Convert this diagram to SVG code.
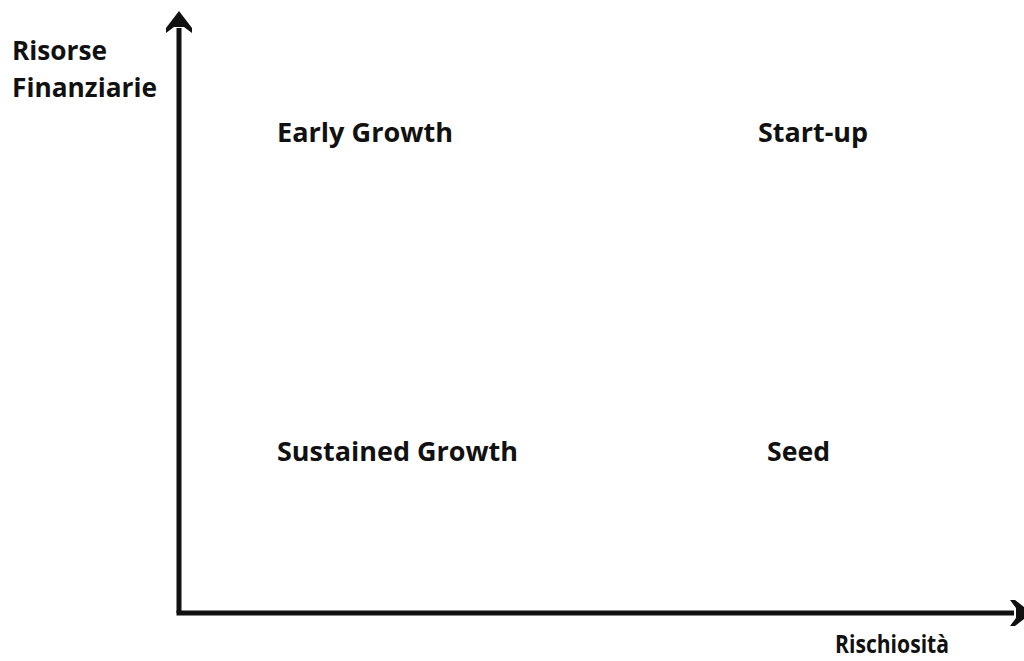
<svg xmlns="http://www.w3.org/2000/svg" width="1024" height="661" viewBox="0 0 1024 661">
  <style>
    .lbl { font-family: "Open Sans", "Liberation Sans", sans-serif; font-weight: bold; font-size: 27px; fill: #111; }
    .small { font-size: 25px; }
    .axis { stroke: #111; stroke-width: 5; fill: none; }
    .head { fill: #111; }
  </style>
  <rect width="1024" height="661" fill="#fff"/>
  <g id="connectors">
    <!-- vertical axis: Risorse Finanziarie -->
    <line class="axis" x1="179" y1="613" x2="179" y2="28"/>
    <path class="head" d="M179,11 L192,28 L192,33 L184,27 L174,27 L166,33 L166,28 Z"/>
    <!-- horizontal axis: Rischiosità -->
    <line class="axis" x1="176.5" y1="613" x2="1014" y2="613"/>
    <path class="head" d="M1032,613 L1015,626 L1010,626 L1016,618 L1016,608 L1010,600 L1015,600 Z"/>
  </g>
  <g id="axis-y-label">
    <text class="lbl" x="12" y="60" textLength="95" lengthAdjust="spacingAndGlyphs">Risorse</text>
    <text class="lbl" x="12" y="97" textLength="145" lengthAdjust="spacingAndGlyphs">Finanziarie</text>
  </g>
  <g id="axis-x-label">
    <text class="lbl small" x="835" y="653" textLength="114" lengthAdjust="spacingAndGlyphs">Rischiosità</text>
  </g>
  <g id="early-growth">
    <text class="lbl" x="277" y="142" textLength="176" lengthAdjust="spacingAndGlyphs">Early Growth</text>
  </g>
  <g id="start-up">
    <text class="lbl" x="758" y="142" textLength="110" lengthAdjust="spacingAndGlyphs">Start-up</text>
  </g>
  <g id="sustained-growth">
    <text class="lbl" x="277" y="461" textLength="241" lengthAdjust="spacingAndGlyphs">Sustained Growth</text>
  </g>
  <g id="seed">
    <text class="lbl" x="767" y="461" textLength="63" lengthAdjust="spacingAndGlyphs">Seed</text>
  </g>
</svg>
